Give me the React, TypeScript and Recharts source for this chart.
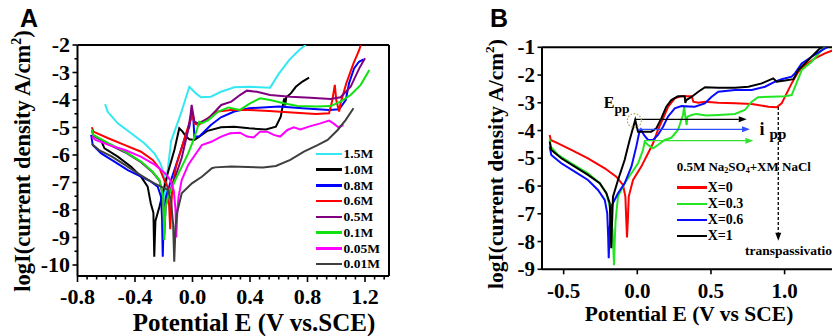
import React from "react";
import {
  LineChart,
  Line,
  XAxis,
  YAxis,
  Legend,
  ReferenceLine,
  ReferenceDot,
} from "recharts";

type Pt = [number, number];

// ---------- panel A: [E (V vs SCE), log i] ----------
const a15: Pt[] = [
  [-0.608, -4.15], [-0.59, -4.43], [-0.52, -4.85], [-0.427, -5.21], [-0.335, -5.57],
  [-0.265, -5.94], [-0.224, -6.3], [-0.2, -6.67], [-0.192, -7.2], [-0.188, -8.2],
  [-0.184, -7.2], [-0.175, -6.67], [-0.149, -5.5], [-0.08, -4.48], [-0.022, -3.52],
  [0.024, -3.76], [0.059, -3.9], [0.128, -3.88], [0.198, -3.7], [0.256, -3.6],
  [0.29, -3.54], [0.394, -3.52], [0.54, -3.55], [0.6, -3.05], [0.672, -2.55],
  [0.742, -2.18], [0.788, -2.0],
];
const a10: Pt[] = [
  [-0.63, -5.55], [-0.612, -5.76], [-0.52, -6.06], [-0.427, -6.43], [-0.358, -6.79],
  [-0.312, -7.15], [-0.29, -7.76], [-0.272, -8.1], [-0.266, -9.7], [-0.258, -8.4],
  [-0.23, -7.88], [-0.173, -6.67], [-0.126, -5.82], [-0.092, -5.03], [-0.069, -5.15],
  [-0.045, -5.33], [-0.022, -5.43], [0.013, -5.45], [0.047, -5.33], [0.105, -5.12],
  [0.198, -4.99], [0.29, -4.97], [0.394, -5.03], [0.51, -5.07], [0.58, -4.97],
  [0.614, -4.61], [0.631, -4.12], [0.638, -3.94], [0.645, -4.2], [0.652, -3.9],
  [0.684, -3.76], [0.719, -3.52], [0.765, -3.33], [0.811, -3.19],
];
const a08: Pt[] = [
  [-0.705, -5.27], [-0.694, -5.64], [-0.635, -5.94], [-0.543, -6.24], [-0.45, -6.55],
  [-0.358, -6.79], [-0.288, -6.97], [-0.242, -7.15], [-0.219, -7.52], [-0.212, -8.3],
  [-0.207, -9.7], [-0.2, -8.3], [-0.184, -7.52], [-0.149, -6.91], [-0.103, -6.18],
  [-0.057, -5.45], [-0.022, -4.97], [-0.006, -4.42], [0.005, -4.6], [0.013, -5.33],
  [0.047, -5.33], [0.128, -4.91], [0.198, -4.63], [0.29, -4.42], [0.394, -4.3],
  [0.603, -4.24], [0.765, -4.3], [0.95, -4.36], [1.02, -4.34], [1.066, -4.0],
  [1.089, -3.39], [1.124, -2.85], [1.158, -2.61], [1.19, -2.52],
];
const a06: Pt[] = [
  [-0.7, -4.99], [-0.69, -5.15], [-0.586, -5.39], [-0.47, -5.64], [-0.358, -5.88],
  [-0.277, -6.18], [-0.23, -6.48], [-0.196, -6.91], [-0.173, -7.15], [-0.163, -7.8],
  [-0.155, -8.7], [-0.147, -7.8], [-0.14, -7.15], [-0.115, -6.43], [-0.08, -5.82],
  [-0.045, -5.21], [-0.022, -4.85], [0.0, -4.55], [0.013, -4.85], [0.04, -4.91],
  [0.105, -4.67], [0.175, -4.42], [0.268, -4.36], [0.394, -4.36], [0.533, -4.4],
  [0.719, -4.46], [0.858, -4.51], [0.95, -4.48], [0.973, -4.0], [0.99, -3.45],
  [1.0, -4.0], [1.02, -4.42], [1.03, -4.12], [1.07, -3.39], [1.12, -2.67],
  [1.16, -2.18], [1.17, -2.0],
];
const a05: Pt[] = [
  [-0.7, -5.1], [-0.69, -5.3], [-0.586, -5.6], [-0.47, -5.9], [-0.358, -6.26],
  [-0.277, -6.63], [-0.23, -6.93], [-0.205, -7.5], [-0.196, -8.9], [-0.188, -7.9],
  [-0.17, -7.5], [-0.12, -6.8], [-0.075, -6.1], [-0.035, -5.2], [-0.015, -4.6],
  [-0.006, -4.18], [0.013, -4.79], [0.04, -4.85], [0.11, -4.67], [0.157, -4.42],
  [0.2, -4.18], [0.27, -4.06], [0.33, -3.82], [0.378, -3.66], [0.448, -3.7],
  [0.54, -3.82], [0.68, -3.88], [0.82, -3.92], [0.96, -3.96], [1.03, -3.9],
  [1.1, -3.52], [1.16, -2.85], [1.2, -2.48],
];
const a01: Pt[] = [
  [-0.7, -5.07], [-0.69, -5.27], [-0.586, -5.57], [-0.47, -5.88], [-0.358, -6.24],
  [-0.277, -6.61], [-0.23, -6.91], [-0.205, -7.5], [-0.196, -9.09], [-0.188, -7.9],
  [-0.17, -7.52], [-0.12, -6.91], [-0.075, -6.43], [-0.03, -5.94], [0.007, -5.45],
  [0.03, -5.09], [0.047, -4.79], [0.065, -4.85], [0.11, -4.73], [0.18, -4.42],
  [0.25, -4.27], [0.33, -4.36], [0.4, -4.12], [0.47, -3.94], [0.54, -4.0],
  [0.635, -4.12], [0.73, -4.22], [0.865, -4.24], [0.96, -4.22], [1.03, -4.06],
  [1.1, -3.82], [1.17, -3.45], [1.23, -2.91],
];
const a005: Pt[] = [
  [-0.7, -5.33], [-0.675, -5.45], [-0.58, -5.64], [-0.47, -5.82], [-0.36, -6.06],
  [-0.26, -6.36], [-0.19, -6.67], [-0.155, -6.91], [-0.13, -7.3], [-0.118, -8.0],
  [-0.113, -9.0], [-0.105, -8.0], [-0.097, -7.52], [-0.075, -6.91], [-0.03, -6.36],
  [0.017, -6.0], [0.065, -5.64], [0.13, -5.52], [0.2, -5.33], [0.262, -5.21],
  [0.33, -5.19], [0.38, -5.33], [0.425, -5.36], [0.47, -5.15], [0.52, -5.15],
  [0.565, -5.27], [0.61, -5.33], [0.66, -5.09], [0.705, -4.99], [0.75, -5.07],
  [0.82, -4.95], [0.89, -4.85], [0.95, -4.75], [0.98, -4.85], [1.015, -4.99],
  [1.05, -4.91],
];
const a001: Pt[] = [
  [-0.7, -5.6], [-0.65, -5.82], [-0.56, -6.06], [-0.47, -6.36], [-0.38, -6.67],
  [-0.288, -6.97], [-0.22, -7.15], [-0.17, -7.27], [-0.15, -7.64], [-0.135, -8.5],
  [-0.127, -9.88], [-0.118, -8.6], [-0.108, -8.12], [-0.075, -7.39], [-0.004, -7.03],
  [0.065, -6.79], [0.135, -6.48], [0.157, -6.45], [0.27, -6.42], [0.49, -6.45],
  [0.58, -6.4], [0.68, -6.18], [0.775, -5.88], [0.87, -5.64], [0.94, -5.45],
  [1.01, -5.09], [1.065, -4.73], [1.12, -4.3],
];
const aNames = ["1.5M", "1.0M", "0.8M", "0.6M", "0.5M", "0.1M", "0.05M", "0.01M"];
const aXMajor = [-0.8, -0.4, 0, 0.4, 0.8, 1.2];
const aXLabels = ["-0.8", "-0.4", "0.0", "0.4", "0.8", "1.2"];
const aYMajor = [-10, -9, -8, -7, -6, -5, -4, -3, -2];
const aYLabels = ["-10", "-9", "-8", "-7", "-6", "-5", "-4", "-3", "-2"];

// ---------- panel B: 0.5M Na2SO4 + X M NaCl ----------
const bX0: Pt[] = [
  [-0.595, -4.16], [-0.588, -4.34], [-0.538, -4.46], [-0.448, -4.7], [-0.335, -5.0],
  [-0.221, -5.36], [-0.143, -5.66], [-0.097, -5.96], [-0.081, -6.38], [-0.075, -7.2],
  [-0.07, -7.85], [-0.064, -7.2], [-0.058, -6.38], [-0.029, -5.78], [0.027, -5.3],
  [0.073, -4.82], [0.107, -4.46], [0.14, -3.98], [0.175, -3.56], [0.21, -3.14],
  [0.254, -2.84], [0.3, -2.76], [0.37, -2.76], [0.38, -2.96], [0.414, -3.0],
  [0.46, -2.96], [0.55, -3.0], [0.663, -3.02], [0.777, -3.04], [0.89, -3.14],
  [0.946, -3.16], [0.98, -3.02], [1.014, -2.66], [1.048, -2.3], [1.093, -1.88],
  [1.14, -1.64], [1.206, -1.4], [1.274, -1.22], [1.33, -1.1],
];
const bX03: Pt[] = [
  [-0.595, -4.32], [-0.588, -4.58], [-0.538, -4.88], [-0.448, -5.18], [-0.335, -5.54],
  [-0.255, -5.9], [-0.21, -6.26], [-0.187, -6.74], [-0.168, -7.6], [-0.158, -8.85],
  [-0.152, -7.8], [-0.147, -7.22], [-0.131, -6.38], [-0.086, -5.9], [-0.04, -5.54],
  [0.005, -5.18], [0.039, -4.7], [0.05, -4.4], [0.073, -4.52], [0.107, -4.64],
  [0.14, -4.52], [0.186, -4.34], [0.231, -4.26], [0.276, -3.98], [0.31, -3.44],
  [0.318, -3.16], [0.326, -3.5], [0.335, -3.8], [0.34, -3.5], [0.37, -3.44],
  [0.4, -3.4], [0.47, -3.46], [0.55, -3.44], [0.663, -3.4], [0.73, -3.26],
  [0.777, -2.96], [0.82, -2.8], [0.91, -2.78], [1.0, -2.76], [1.048, -2.72],
  [1.08, -2.3], [1.116, -1.82], [1.184, -1.52], [1.252, -1.1], [1.274, -1.0],
];
const bX06: Pt[] = [
  [-0.595, -4.58], [-0.584, -4.88], [-0.516, -5.18], [-0.425, -5.48], [-0.335, -5.78],
  [-0.267, -6.14], [-0.221, -6.5], [-0.204, -6.98], [-0.198, -7.8], [-0.194, -8.6],
  [-0.188, -7.6], [-0.177, -6.74], [-0.131, -6.26], [-0.086, -5.9], [-0.04, -5.3],
  [-0.007, -4.58], [0.012, -4.1], [0.025, -3.96], [0.045, -4.16], [0.073, -4.34],
  [0.107, -4.34], [0.14, -4.16], [0.175, -3.86], [0.208, -3.5], [0.254, -3.2],
  [0.3, -3.12], [0.39, -3.14], [0.458, -3.02], [0.505, -2.78], [0.55, -2.6],
  [0.663, -2.54], [0.777, -2.54], [0.867, -2.42], [0.935, -2.24], [0.98, -2.15],
  [1.048, -2.06], [1.07, -1.94], [1.116, -1.58], [1.184, -1.34], [1.274, -1.04],
  [1.29, -1.0],
];
const bX1: Pt[] = [
  [-0.595, -4.4], [-0.584, -4.7], [-0.516, -5.0], [-0.425, -5.3], [-0.335, -5.6],
  [-0.255, -5.9], [-0.21, -6.26], [-0.187, -6.62], [-0.181, -7.5], [-0.177, -8.24],
  [-0.172, -7.4], [-0.165, -6.38], [-0.131, -5.78], [-0.086, -5.06], [-0.052, -4.34],
  [-0.014, -3.62], [0.005, -4.04], [0.039, -4.04], [0.095, -4.04], [0.129, -3.92],
  [0.163, -3.56], [0.197, -3.14], [0.231, -2.9], [0.276, -2.76], [0.322, -2.76],
  [0.326, -3.0], [0.333, -2.9], [0.37, -2.78], [0.414, -2.6], [0.46, -2.44],
  [0.55, -2.46], [0.663, -2.46], [0.754, -2.42], [0.845, -2.3], [0.923, -2.12],
  [0.946, -2.24], [1.003, -2.2], [1.06, -2.15], [1.093, -1.82], [1.161, -1.46],
  [1.24, -1.04], [1.255, -1.0],
];
const bNames = ["X=0", "X=0.3", "X=0.6", "X=1"];
const bXMajor = [-0.5, 0, 0.5, 1.0];
const bXLabels = ["-0.5", "0.0", "0.5", "1.0"];
const bYMajor = [-9, -8, -7, -6, -5, -4, -3, -2, -1];
const bYLabels = ["-9", "-8", "-7", "-6", "-5", "-4", "-3", "-2", "-1"];

// annotation anchors in data units (panel B)
const eppText = { x: -0.228, y: -3.19 };
const eppMark = { x: -0.02, y: -3.64 };
const ippText = { x: 0.83, y: -4.16 };
const transText = { x: 0.731, y: -8.48 };
const ippArrows = [
  { x1: -0.018, x2: 0.743, y: -3.595, color: "#000000" },
  { x1: 0.005, x2: 0.765, y: -3.955, color: "#3050ff" },
  { x1: 0.045, x2: 0.788, y: -4.366, color: "#30e030" },
];
const transArrow = { x: 0.957, y1: -3.15, y2: -7.97 };

// ---------- styling ----------
const serif = "'Liberation Serif', 'Times New Roman', serif";
const serifStyle: React.CSSProperties = { fontFamily: serif, fontWeight: "bold" };
const colorsA = ["#33e8f2", "#000000", "#0000ff", "#ff0000", "#800080", "#11e011", "#ff00ff", "#3f3f3f"];
const colorsB = ["#ff0000", "#22e622", "#0a0aff", "#000000"];
const axisStyle = { stroke: "#000", strokeWidth: 2 };

const toXY = (pts: Pt[]) => pts.map(([x, y]) => ({ x, y }));
const seriesA = [a15, a10, a08, a06, a05, a01, a005, a001].map((d, i) => ({
  name: aNames[i],
  color: colorsA[i],
  data: toXY(d),
}));
const seriesB = [bX0, bX03, bX06, bX1].map((d, i) => ({
  name: bNames[i],
  color: colorsB[i],
  data: toXY(d),
}));

const A_XMAX = -0.8 + 311.5 / 143.75;
const B_XMIN = -0.647;
const B_XMAX = B_XMIN + 301 / 147.3;

// major ticks plus evenly spaced minor ticks
function withMinor(majors: number[], step: number, parts: number, max: number) {
  const out: number[] = [];
  for (let k = 0; ; k++) {
    const v = majors[0] + (k * step) / parts;
    if (v > max + 1e-9) break;
    out.push(Math.round(v * 10000) / 10000);
  }
  return out;
}

const findMajor = (majors: number[], v: number) =>
  majors.findIndex((m) => Math.abs(m - v) < 1e-6);

const makeXTick =
  (majors: number[], labels: string[], fs: number, lenMaj: number, lenMin: number, base: number) =>
  (props: any) => {
    const { x, y, payload } = props;
    const i = findMajor(majors, payload.value);
    return (
      <g>
        <line x1={x} y1={y} x2={x} y2={y + (i >= 0 ? lenMaj : lenMin)} stroke="#000" strokeWidth={1.6} />
        {i >= 0 && (
          <text x={x} y={y + base} textAnchor="middle" style={{ ...serifStyle, fontSize: fs }} fill="#000">
            {labels[i]}
          </text>
        )}
      </g>
    );
  };

const makeYTick =
  (majors: number[], labels: string[], fs: number, lenMaj: number, lenMin: number, gap: number) =>
  (props: any) => {
    const { x, y, payload } = props;
    const i = findMajor(majors, payload.value);
    return (
      <g>
        <line x1={x} y1={y} x2={x - (i >= 0 ? lenMaj : lenMin)} y2={y} stroke="#000" strokeWidth={1.6} />
        {i >= 0 && (
          <text x={x - gap} y={y} dy="0.34em" textAnchor="end" style={{ ...serifStyle, fontSize: fs }} fill="#000">
            {labels[i]}
          </text>
        )}
      </g>
    );
  };

const xTitle = (text: string, cx: number, baseY: number, fs: number) => () =>
  (
    <text x={cx} y={baseY} textAnchor="middle" style={{ ...serifStyle, fontSize: fs }} fill="#000">
      {text}
    </text>
  );

const yTitle = (bx: number, cy: number, fs: number) => () =>
  (
    <text
      x={bx}
      y={cy}
      transform={`rotate(-90, ${bx}, ${cy})`}
      textAnchor="middle"
      style={{ ...serifStyle, fontSize: fs }}
      fill="#000"
    >
      logI(current density A/cm
      <tspan dy={-fs * 0.4} style={{ fontSize: fs * 0.62 }}>2</tspan>
      <tspan dy={fs * 0.4}>)</tspan>
    </text>
  );

const legendA = (props: any) => (
  <div style={{ ...serifStyle, fontSize: 13.5, color: "#000" }}>
    {(props.payload || []).map((e: any) => (
      <div key={e.value} style={{ display: "flex", alignItems: "center", height: 15.75 }}>
        <div style={{ width: 26, height: 2.6, background: e.color, marginRight: 1.5 }} />
        <span style={{ lineHeight: "15.75px", whiteSpace: "nowrap" }}>{e.value}</span>
      </div>
    ))}
  </div>
);

const legendB = (props: any) => (
  <div style={{ ...serifStyle, color: "#000" }}>
    <div style={{ fontSize: 13, lineHeight: "16px", height: 16, marginBottom: 4.4, whiteSpace: "nowrap" }}>
      0.5M Na<sub style={{ fontSize: 8, verticalAlign: "-2px" }}>2</sub>SO
      <sub style={{ fontSize: 8, verticalAlign: "-2px" }}>4</sub>+XM NaCl
    </div>
    {(props.payload || []).map((e: any) => (
      <div key={e.value} style={{ display: "flex", alignItems: "center", height: 16.1 }}>
        <div style={{ width: 30, height: 2.6, background: e.color, marginRight: 1 }} />
        <span style={{ fontSize: 14, lineHeight: "16px", whiteSpace: "nowrap" }}>{e.value}</span>
      </div>
    ))}
  </div>
);

const arrowShape = (color: string, dashed: boolean) => (p: any) => {
  const { x1, y1, x2, y2 } = p;
  const ang = Math.atan2(y2 - y1, x2 - x1);
  const L = 8;
  const W = 3;
  const bx = x2 - L * Math.cos(ang);
  const by = y2 - L * Math.sin(ang);
  const pts = `${x2},${y2} ${bx - W * Math.sin(ang)},${by + W * Math.cos(ang)} ${bx + W * Math.sin(ang)},${by - W * Math.cos(ang)}`;
  return (
    <g>
      <line x1={x1} y1={y1} x2={bx} y2={by} stroke={color} strokeWidth={1.3} strokeDasharray={dashed ? "3 2" : undefined} />
      <polygon points={pts} fill={color} />
    </g>
  );
};

function ChartA() {
  const xTicks = withMinor(aXMajor, 0.4, 6, A_XMAX);
  const yTicks = withMinor(aYMajor, 1, 2, -2);
  return (
    <LineChart width={420} height={336} margin={{ top: 45, right: 31, bottom: 0, left: 0 }}>
      <XAxis
        type="number"
        dataKey="x"
        domain={[-0.8, A_XMAX]}
        allowDataOverflow
        ticks={xTicks}
        interval={0}
        tickSize={0}
        tickMargin={0}
        tickLine={false}
        axisLine={axisStyle}
        height={60}
        tick={makeXTick(aXMajor, aXLabels, 22, 6, 3.5, 28)}
        label={xTitle("Potential E (V vs.SCE)", 254, 330.5, 25)}
      />
      <YAxis
        type="number"
        dataKey="y"
        domain={[-10.4, -2]}
        allowDataOverflow
        ticks={yTicks}
        interval={0}
        tickSize={0}
        tickMargin={0}
        tickLine={false}
        axisLine={axisStyle}
        width={77.5}
        tick={makeYTick(aYMajor, aYLabels, 22, 5, 3, 7.5)}
        label={yTitle(30, 161, 22.5)}
      />
      <ReferenceLine y={-2} stroke="#000" strokeWidth={2} />
      <ReferenceLine x={A_XMAX} stroke="#000" strokeWidth={2} />
      {seriesA.map((s) => (
        <Line
          key={s.name}
          data={s.data}
          dataKey="y"
          name={s.name}
          type="linear"
          stroke={s.color}
          strokeWidth={2}
          dot={false}
          activeDot={false}
          isAnimationActive={false}
        />
      ))}
      <Legend
        layout="vertical"
        align="center"
        verticalAlign="middle"
        itemSorter={(e: any) => aNames.indexOf(e.value)}
        wrapperStyle={{ left: 316, top: 146 }}
        content={legendA}
      />
    </LineChart>
  );
}

function ChartB() {
  return (
    <LineChart width={440} height={336} margin={{ top: 47.3, right: 17, bottom: 0, left: 0 }}>
      <XAxis
        type="number"
        dataKey="x"
        domain={[B_XMIN, B_XMAX]}
        allowDataOverflow
        ticks={bXMajor}
        interval={0}
        tickSize={0}
        tickMargin={0}
        tickLine={false}
        axisLine={axisStyle}
        height={66.7}
        tick={makeXTick(bXMajor, bXLabels, 21, 5, 5, 28.7)}
        label={xTitle("Potential E (V vs SCE)", 269, 320.5, 21.5)}
      />
      <YAxis
        type="number"
        dataKey="y"
        domain={[-9, -1]}
        allowDataOverflow
        ticks={bYMajor}
        interval={0}
        tickSize={0}
        tickMargin={0}
        tickLine={false}
        axisLine={axisStyle}
        width={122}
        tick={makeYTick(bYMajor, bYLabels, 21, 4.5, 4.5, 7)}
        label={yTitle(83, 164, 21.5)}
      />
      <ReferenceLine y={-1} stroke="#000" strokeWidth={2} />
      {seriesB.map((s) => (
        <Line
          key={s.name}
          data={s.data}
          dataKey="y"
          name={s.name}
          type="linear"
          stroke={s.color}
          strokeWidth={2}
          dot={false}
          activeDot={false}
          isAnimationActive={false}
        />
      ))}
      {ippArrows.map((a) => (
        <ReferenceLine
          key={a.color}
          segment={[{ x: a.x1, y: a.y }, { x: a.x2, y: a.y }]}
          shape={arrowShape(a.color, false)}
        />
      ))}
      <ReferenceLine
        segment={[{ x: transArrow.x, y: transArrow.y1 }, { x: transArrow.x, y: transArrow.y2 }]}
        shape={arrowShape("#000", true)}
      />
      <ReferenceDot
        x={eppMark.x}
        y={eppMark.y}
        r={7}
        fill="none"
        stroke="#b4a350"
        strokeWidth={1.2}
        strokeDasharray="1.6 1.6"
      />
      <ReferenceDot
        x={eppText.x}
        y={eppText.y}
        shape={(p: any) => (
          <text x={p.cx} y={p.cy} style={serifStyle} fill="#000">
            <tspan style={{ fontSize: 16 }}>E</tspan>
            <tspan style={{ fontSize: 13.5 }} dy={5}>pp</tspan>
          </text>
        )}
      />
      <ReferenceDot
        x={ippText.x}
        y={ippText.y}
        shape={(p: any) => (
          <text x={p.cx} y={p.cy} style={serifStyle} fill="#000">
            <tspan style={{ fontSize: 18 }}>i</tspan>
            <tspan style={{ fontSize: 15 }} dx={5} dy={4}>pp</tspan>
          </text>
        )}
      />
      <ReferenceDot
        x={transText.x}
        y={transText.y}
        shape={(p: any) => (
          <text x={p.cx} y={p.cy} style={{ ...serifStyle, fontSize: 13.5 }} fill="#000">
            transpassivation
          </text>
        )}
      />
      <Legend
        layout="vertical"
        align="center"
        verticalAlign="middle"
        itemSorter={(e: any) => bNames.indexOf(e.value)}
        wrapperStyle={{ left: 256.7, top: 159.3 }}
        content={legendB}
      />
    </LineChart>
  );
}

const letter = (left: number): React.CSSProperties => ({
  position: "absolute",
  left,
  top: 6,
  fontFamily: "'Liberation Sans', Arial, sans-serif",
  fontWeight: "bold",
  fontSize: 25,
  lineHeight: "25px",
  color: "#000",
});

export default function App() {
  return (
    <div
      style={{
        position: "fixed",
        left: 0,
        top: 0,
        width: 832,
        height: 336,
        overflow: "hidden",
        background: "#fff",
      }}
    >
      <div style={{ position: "absolute", left: 0, top: 0 }}>
        <ChartA />
      </div>
      <div style={{ position: "absolute", left: 420, top: 0 }}>
        <ChartB />
      </div>
      <div style={letter(20)}>A</div>
      <div style={letter(490)}>B</div>
    </div>
  );
}
